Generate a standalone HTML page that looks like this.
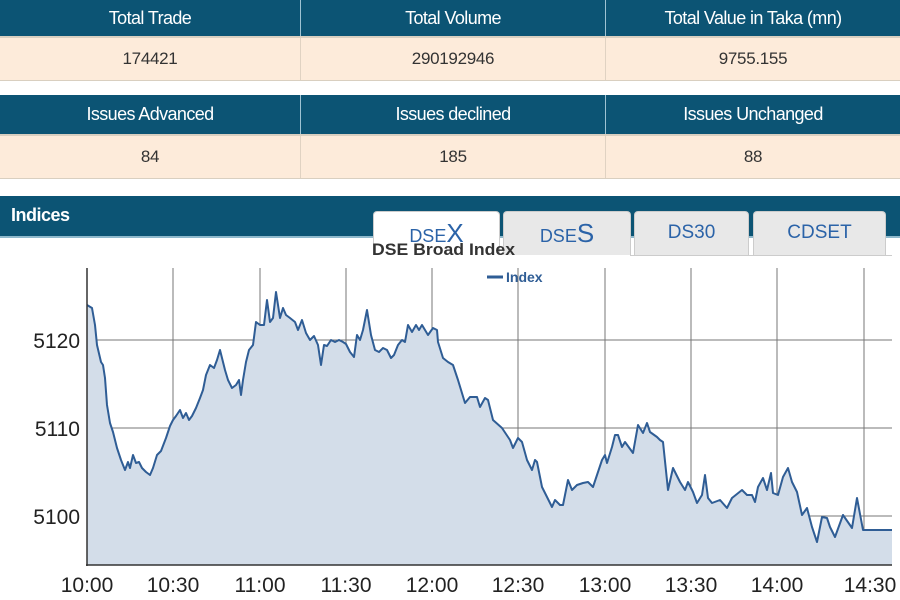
<!DOCTYPE html>
<html><head><style>
body{margin:0;width:900px;height:600px;overflow:hidden;background:#fff;font-family:"Liberation Sans",sans-serif;position:relative}
.hd,.dt{position:absolute;left:0;width:900px;display:flex}
.hd{background:#0c5474;color:#fff;font-size:18px;letter-spacing:-0.6px}
.dt{background:#fdebda;color:#333;font-size:17px;border-top:2px solid #d9cfc0;border-bottom:1px solid #d9cfc0;letter-spacing:-0.3px}
.hd div,.dt div{display:flex;align-items:center;justify-content:center;box-sizing:border-box}
.hd div+div{border-left:1px solid #9fc3d3}
.dt div+div{border-left:1px solid #e0d2c2}
.c1{width:300px}.c2{width:305px}.c3{width:295px}
.tab{position:absolute;top:211px;height:44px;background:#e8e8e8;border:1px solid #ccc;border-bottom:none;border-radius:4px 4px 0 0;color:#2b63a8;font-size:19px;text-align:center;line-height:42px;box-sizing:border-box}
</style></head><body>
<div class="hd" style="top:0;height:36px"><div class="c1">Total Trade</div><div class="c2">Total Volume</div><div class="c3">Total Value in Taka (mn)</div></div>
<div class="dt" style="top:36px;height:42px"><div class="c1">174421</div><div class="c2">290192946</div><div class="c3">9755.155</div></div>
<div class="hd" style="top:95px;height:39px"><div class="c1">Issues Advanced</div><div class="c2">Issues declined</div><div class="c3">Issues Unchanged</div></div>
<div class="dt" style="top:134px;height:42px"><div class="c1">84</div><div class="c2">185</div><div class="c3">88</div></div>
<div style="position:absolute;top:196px;left:0;width:900px;height:40px;background:#0c5474;border-bottom:2px solid #8fb9cc"></div>
<div style="position:absolute;top:205px;left:11px;color:#fff;font-size:18px;font-weight:bold;letter-spacing:-0.5px">Indices</div>
<div class="tab" style="left:373px;width:127px;background:#fff;font-size:18px">DSE<span style="font-size:26px">X</span></div>
<div class="tab" style="left:503px;width:128px;font-size:18px">DSE<span style="font-size:26px">S</span></div>
<div class="tab" style="left:634px;width:115px">DS30</div>
<div class="tab" style="left:753px;width:133px">CDSET</div>
<div style="position:absolute;top:255px;left:630px;width:262px;height:1px;background:#ccc"></div>
<svg style="position:absolute;left:0;top:0" width="900" height="600">
<text x="372" y="255" font-size="17" font-weight="bold" fill="#333" font-family="Liberation Sans" textLength="143" lengthAdjust="spacingAndGlyphs">DSE Broad Index</text>
<g stroke="#777" stroke-width="1">
<line x1="87" y1="340" x2="892" y2="340"/><line x1="87" y1="428" x2="892" y2="428"/><line x1="87" y1="516" x2="892" y2="516"/>
<line x1="173" y1="268" x2="173" y2="565"/><line x1="260" y1="268" x2="260" y2="565"/><line x1="346" y1="268" x2="346" y2="565"/><line x1="432" y1="268" x2="432" y2="565"/><line x1="518" y1="268" x2="518" y2="565"/><line x1="605" y1="268" x2="605" y2="565"/><line x1="691" y1="268" x2="691" y2="565"/><line x1="777" y1="268" x2="777" y2="565"/><line x1="864" y1="268" x2="864" y2="565"/>
</g>
<path fill="#d3dde9" stroke="none" d="M87,565 L87,305 92,308 95,325 97,345 101,362 103,365 105,378 107,405 110,423 113,432 117,448 121,460 125,470 128,462 130,468 133,455 136,463 139,462 142,468 146,472 150,475 153,468 157,455 161,451 166,438 170,426 173,420 176,416 180,410 183,418 186,413 189,420 192,416 196,408 200,398 203,390 206,375 210,365 214,368 217,360 220,350 222,358 225,370 228,380 232,388 236,385 239,380 241,395 243,380 246,362 249,350 253,345 256,322 260,325 264,325 267,300 270,322 273,318 276,292 280,318 283,308 286,315 290,318 295,322 298,330 302,320 306,333 310,340 314,336 318,345 321,365 324,345 327,346 331,340 335,342 339,340 343,342 346,344 350,352 354,357 357,335 360,340 363,330 367,310 371,335 375,350 379,352 383,348 387,350 391,358 394,355 398,345 402,340 405,342 408,325 412,332 416,325 419,330 422,325 425,330 428,335 433,328 437,330 438,342 443,358 448,362 453,365 458,380 465,403 470,397 477,397 480,407 485,398 488,400 493,420 502,428 510,440 513,448 518,438 522,442 527,460 532,470 535,460 537,462 542,487 552,507 555,500 560,505 563,505 568,480 572,490 577,485 583,483 588,482 593,487 597,475 602,460 605,455 607,463 612,447 615,435 618,435 622,447 625,442 633,453 638,425 643,433 647,423 650,432 657,437 660,440 663,442 668,490 673,468 680,482 685,490 688,482 693,492 697,503 702,495 705,475 708,498 712,503 720,500 727,508 732,498 742,490 747,495 752,495 755,502 758,487 763,478 767,490 771,473 773,493 778,495 783,477 788,468 792,482 797,492 802,515 807,508 812,527 817,542 822,517 827,518 830,527 835,537 843,515 852,528 857,498 863,530 892,530 L892,565 Z"/>
<polyline fill="none" stroke="#2f5d95" stroke-width="2" stroke-linejoin="round" points="87,305 92,308 95,325 97,345 101,362 103,365 105,378 107,405 110,423 113,432 117,448 121,460 125,470 128,462 130,468 133,455 136,463 139,462 142,468 146,472 150,475 153,468 157,455 161,451 166,438 170,426 173,420 176,416 180,410 183,418 186,413 189,420 192,416 196,408 200,398 203,390 206,375 210,365 214,368 217,360 220,350 222,358 225,370 228,380 232,388 236,385 239,380 241,395 243,380 246,362 249,350 253,345 256,322 260,325 264,325 267,300 270,322 273,318 276,292 280,318 283,308 286,315 290,318 295,322 298,330 302,320 306,333 310,340 314,336 318,345 321,365 324,345 327,346 331,340 335,342 339,340 343,342 346,344 350,352 354,357 357,335 360,340 363,330 367,310 371,335 375,350 379,352 383,348 387,350 391,358 394,355 398,345 402,340 405,342 408,325 412,332 416,325 419,330 422,325 425,330 428,335 433,328 437,330 438,342 443,358 448,362 453,365 458,380 465,403 470,397 477,397 480,407 485,398 488,400 493,420 502,428 510,440 513,448 518,438 522,442 527,460 532,470 535,460 537,462 542,487 552,507 555,500 560,505 563,505 568,480 572,490 577,485 583,483 588,482 593,487 597,475 602,460 605,455 607,463 612,447 615,435 618,435 622,447 625,442 633,453 638,425 643,433 647,423 650,432 657,437 660,440 663,442 668,490 673,468 680,482 685,490 688,482 693,492 697,503 702,495 705,475 708,498 712,503 720,500 727,508 732,498 742,490 747,495 752,495 755,502 758,487 763,478 767,490 771,473 773,493 778,495 783,477 788,468 792,482 797,492 802,515 807,508 812,527 817,542 822,517 827,518 830,527 835,537 843,515 852,528 857,498 863,530 892,530"/>
<line x1="87" y1="268" x2="87" y2="566" stroke="#333" stroke-width="1.5"/>
<line x1="86" y1="565" x2="892" y2="565" stroke="#333" stroke-width="1.5"/>
<line x1="487" y1="277" x2="503" y2="277" stroke="#2f5d95" stroke-width="3"/>
<text x="506" y="282" font-size="14" font-weight="bold" fill="#2f5d95" font-family="Liberation Sans">Index</text>
<g font-family="Liberation Sans" font-size="21" fill="#222">
<text x="80" y="348" text-anchor="end">5120</text><text x="80" y="436" text-anchor="end">5110</text><text x="80" y="524" text-anchor="end">5100</text>
<text x="87" y="592" text-anchor="middle">10:00</text><text x="173" y="592" text-anchor="middle">10:30</text><text x="260" y="592" text-anchor="middle">11:00</text><text x="346" y="592" text-anchor="middle">11:30</text><text x="432" y="592" text-anchor="middle">12:00</text><text x="518" y="592" text-anchor="middle">12:30</text><text x="605" y="592" text-anchor="middle">13:00</text><text x="691" y="592" text-anchor="middle">13:30</text><text x="777" y="592" text-anchor="middle">14:00</text><text x="870" y="592" text-anchor="middle">14:30</text>
</g>
</svg>
</body></html>
